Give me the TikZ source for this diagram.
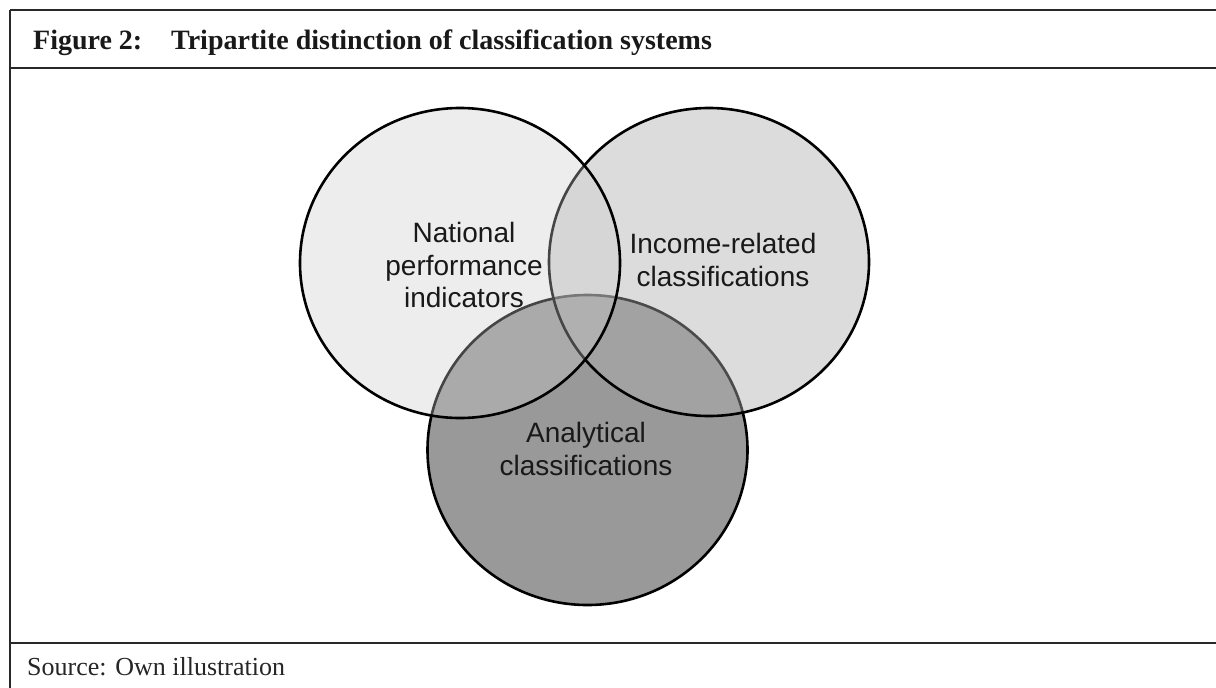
\documentclass[tikz,border=0pt]{standalone}
\usepackage{fontspec}
\setmainfont{Liberation Serif}
\newfontfamily\arialf{Liberation Sans}
\definecolor{cB}{RGB}{153,153,153}
\definecolor{cR}{RGB}{176,176,176}
\definecolor{cL}{RGB}{205,205,205}
\definecolor{frameC}{RGB}{40,40,40}
\tikzset{
  frameline/.style={draw=frameC, line width=1.6pt},
  vennring/.style={draw=black, line width=2.6pt},
  venntext/.style={font=\arialf\fontsize{28}{32.5}\selectfont, align=center, inner sep=0pt, text=black!90},
  titletext/.style={font=\bfseries\fontsize{28}{32}\selectfont, anchor=base west, inner sep=0pt, text=black!90},
  sourcetext/.style={font=\fontsize{26}{30}\selectfont, anchor=base west, inner sep=0pt, text=black!85}
}
\begin{document}
\begin{tikzpicture}[x=1pt,y=-1pt]
\useasboundingbox (0,0) rectangle (1216,688);
\fill[white] (0,0) rectangle (1216,688);
% frame
\coordinate (tl) at (10,10);
\coordinate (tr) at (1216,10);
\coordinate (bl) at (10,688);
\coordinate (sl) at (10,68);
\coordinate (sr) at (1216,68);
\coordinate (fl) at (10,643);
\coordinate (fr) at (1216,643);
\draw[frameline] (tl) -- (tr);
\draw[frameline] (tl) -- (bl);
\draw[frameline] (sl) -- (sr);
\draw[frameline] (fl) -- (fr);
% title and source
\node[titletext] (fig) at (33,49) {Figure 2:};
\node[titletext] (title) at (171,49) {Tripartite distinction of classification systems};
\node[sourcetext] (src) at (27,675) {Source: Own illustration};
% circles: bottom, right, left (left on top)
\path[vennring, fill=cB] (587.5,450) ellipse [x radius=160pt, y radius=155pt];
\path[vennring, fill=cR, fill opacity=0.43] (709,262) ellipse [x radius=160pt, y radius=154pt];
\path[vennring, fill=cL, fill opacity=0.34] (460,263) ellipse [x radius=160pt, y radius=155pt];
% labels
\node[venntext] (nat) at (464,265) {National\\performance\\indicators};
\node[venntext] (inc) at (723,260) {Income-related\\classifications};
\node[venntext] (ana) at (586,449) {Analytical\\classifications};
\end{tikzpicture}
\end{document}
